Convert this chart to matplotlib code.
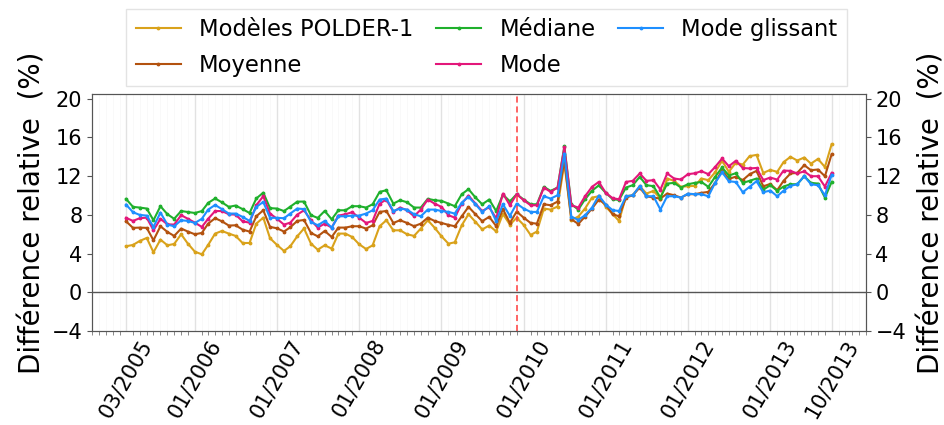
import numpy as np
import pandas as pd
import matplotlib
matplotlib.use("Agg")
import matplotlib.pyplot as plt
import matplotlib.dates as mdates

# ---- séries mensuelles (03/2005 -> 10/2013), en % ----
mois = pd.date_range("2005-03-01", periods=104, freq="MS")

polder1 = [4.76, 4.9, 5.31, 5.62, 4.14, 5.45, 4.86, 5.0, 6.0, 5.03,
           4.2, 3.93, 4.9, 6.07, 6.34, 6.07, 5.83, 5.1, 5.1, 7.1,
           7.72, 5.59, 4.9, 4.28, 4.76, 5.79, 6.6, 5.03, 4.41, 4.86,
           4.52, 6.07, 6.07, 5.72, 4.97, 4.48, 4.86, 6.83, 7.45, 6.41,
           6.41, 6.0, 5.83, 6.59, 7.45, 6.69, 5.79, 5.03, 5.17, 6.93,
           8.07, 7.28, 6.5, 6.9, 6.3, 8.1, 7.0, 7.7, 6.97, 5.93,
           6.28, 8.66, 8.55, 8.86, 13.38, 7.48, 7.83, 8.66, 9.79, 9.93,
           8.86, 8.07, 7.38, 9.93, 10.03, 10.97, 10.21, 10.48, 9.69, 11.76,
           11.52, 10.9, 10.97, 11.0, 11.76, 11.59, 12.4, 13.6, 12.45, 13.4,
           13.2, 14.07, 14.2, 12.34, 12.65, 12.45, 13.45, 14.0, 13.62, 13.93,
           13.3, 13.78, 12.95, 15.31]

moyenne = [7.34, 6.66, 6.69, 6.66, 5.38, 6.83, 6.24, 5.83, 6.59, 6.28,
           6.0, 6.14, 7.1, 7.66, 7.34, 6.9, 6.93, 6.48, 6.28, 7.86,
           8.48, 6.76, 6.62, 6.28, 6.72, 7.38, 7.48, 6.14, 5.79, 6.34,
           5.72, 6.69, 6.69, 6.83, 6.83, 6.59, 6.93, 8.31, 8.41, 7.17,
           7.45, 7.17, 6.83, 7.1, 7.72, 7.38, 7.17, 6.97, 6.83, 7.86,
           8.83, 8.07, 7.35, 7.8, 6.85, 8.6, 7.17, 8.35, 7.72, 7.17,
           7.1, 9.1, 9.0, 9.38, 13.66, 7.55, 7.07, 7.83, 8.66, 9.59,
           9.07, 8.07, 7.86, 9.79, 10.03, 10.83, 9.93, 9.79, 9.69, 10.21,
           10.03, 9.79, 10.14, 10.14, 10.28, 10.38, 11.31, 12.62, 11.72, 11.95,
           11.6, 12.2, 12.55, 10.95, 11.2, 10.55, 11.52, 12.28, 12.34, 13.14,
           12.62, 12.69, 12.0, 14.28]

mediane = [9.66, 8.83, 8.76, 8.66, 7.45, 8.9, 8.07, 7.6, 8.4, 8.3,
           8.2, 8.4, 9.24, 9.7, 9.3, 8.83, 8.97, 8.6, 8.2, 9.7,
           10.3, 8.7, 8.66, 8.4, 8.85, 9.37, 9.38, 7.97, 7.69, 8.41,
           7.55, 8.48, 8.48, 8.9, 8.9, 8.76, 9.1, 10.38, 10.55, 9.17,
           9.52, 9.31, 8.76, 8.76, 9.66, 9.52, 9.45, 9.17, 8.9, 10.14,
           10.66, 9.8, 9.1, 9.59, 8.4, 10.1, 9.4, 10.14, 9.59, 9.1,
           9.1, 10.9, 10.48, 10.83, 15.1, 9.1, 8.55, 9.62, 10.5, 11.05,
           10.28, 9.62, 9.55, 10.83, 11.07, 11.93, 11.07, 10.97, 9.79, 11.24,
           11.31, 10.83, 11.17, 11.31, 11.41, 10.9, 11.93, 12.9, 12.07, 12.31,
           11.31, 11.52, 11.76, 10.6, 11.07, 10.5, 10.93, 11.17, 11.17, 12.0,
           11.31, 11.24, 9.79, 11.41]

mode = [7.7, 7.38, 7.66, 7.72, 6.41, 7.59, 7.03, 7.0, 7.97, 7.6,
        7.2, 6.76, 7.6, 8.4, 8.4, 8.07, 8.03, 7.34, 7.2, 9.0,
        9.93, 8.14, 7.6, 7.0, 7.2, 8.03, 8.48, 7.45, 6.69, 7.1,
        6.69, 7.93, 8.07, 8.28, 7.72, 7.17, 7.38, 9.17, 9.59, 8.31,
        8.76, 8.48, 7.86, 8.55, 9.59, 9.17, 8.83, 7.97, 7.72, 9.17,
        10.0, 9.17, 8.4, 8.8, 7.65, 10.2, 9.0, 10.14, 9.52, 9.0,
        9.0, 10.83, 10.38, 10.83, 14.97, 9.0, 8.76, 9.93, 10.9, 11.41,
        10.28, 9.72, 9.62, 11.41, 11.52, 12.28, 11.52, 11.59, 10.62, 12.28,
        11.76, 11.66, 12.21, 12.3, 12.52, 12.21, 12.95, 13.83, 13.03, 13.59,
        12.85, 12.8, 12.85, 11.6, 11.86, 11.65, 12.58, 12.55, 12.28, 12.5,
        12.0, 12.0, 10.93, 12.34]

mode_glissant = [9.07, 8.28, 8.0, 7.93, 6.76, 8.24, 7.0, 6.83, 7.45, 7.38,
                 7.17, 7.6, 8.55, 9.03, 8.6, 8.14, 8.14, 7.8, 7.38, 8.83,
                 9.34, 7.7, 7.7, 7.66, 8.14, 8.66, 8.6, 7.28, 6.93, 7.38,
                 6.69, 7.86, 7.86, 7.93, 7.93, 8.14, 8.48, 9.59, 9.69, 8.41,
                 8.66, 8.55, 8.07, 7.86, 8.55, 8.55, 8.41, 8.31, 8.14, 9.28,
                 9.86, 9.1, 8.3, 8.9, 7.35, 9.1, 7.9, 9.17, 8.66, 8.31,
                 8.31, 9.93, 9.69, 10.03, 14.34, 7.83, 7.48, 7.97, 8.76, 10.0,
                 9.07, 8.48, 8.41, 9.93, 10.03, 10.97, 9.93, 9.93, 8.55, 9.93,
                 9.93, 9.79, 10.2, 10.14, 10.14, 9.93, 11.31, 12.4, 11.48, 11.4,
                 10.34, 10.9, 11.48, 10.34, 10.52, 9.93, 10.5, 11.0, 11.17, 12.0,
                 11.17, 11.07, 10.03, 12.14]

series = [
    ("Modèles POLDER-1", polder1, "#D9A21B"),
    ("Moyenne", moyenne, "#B3520F"),
    ("Médiane", mediane, "#1FB02C"),
    ("Mode", mode, "#E3177A"),
    ("Mode glissant", mode_glissant, "#1E8FFF"),
]

ticks_labels = ["03/2005", "01/2006", "01/2007", "01/2008", "01/2009",
                "01/2010", "01/2011", "01/2012", "01/2013", "10/2013"]
date_coupure = "2009-12-01"   # trait rouge vertical

# ---- figure ----
fig = plt.figure(figsize=(9.44, 4.25), dpi=100)
ax = fig.add_axes([0.0975, 0.221, 0.8195, 0.558])

for nom, val, coul in series:
    ax.plot(mois, val, "-", marker=".", ms=3.5, lw=1.5, color=coul, label=nom)

ax.axhline(0, color="#555555", lw=1)
ax.axvline(pd.Timestamp(date_coupure), color="#FF3B3B", lw=1.1, ls=(0, (4, 2.5)))

ticks = pd.to_datetime(ticks_labels, format="%m/%Y")
ax.set_xticks(ticks)
ax.set_xticklabels(ticks_labels, rotation=60, fontsize=15)
ax.xaxis.set_minor_locator(mdates.MonthLocator())
ax.set_xlim(mois[0] - pd.DateOffset(months=5), mois[-1] + pd.DateOffset(months=5))
ax.grid(True, axis="x", which="major", color="#e2e2e2", lw=1)
ax.grid(True, axis="x", which="minor", color="#f8f8f8", lw=0.6)
ax.tick_params(axis="x", which="major", length=0)
ax.tick_params(axis="x", which="minor", length=3, color="#777777")

ax.set_ylim(-4, 20.5)
ax.set_yticks(np.arange(-4, 21, 4))
ax.tick_params(axis="y", labelsize=15, color="#555555")
ax.set_ylabel("Différence relative  (%)", fontsize=20)

ax2 = ax.twinx()
ax2.set_ylim(ax.get_ylim())
ax2.set_yticks(np.arange(-4, 21, 4))
ax2.tick_params(axis="y", labelsize=15, color="#555555")
ax2.set_ylabel("Différence relative  (%)", fontsize=20, rotation=90, labelpad=8)

for a in (ax, ax2):
    for s in a.spines.values():
        s.set_color("#555555")

ax.legend(loc="lower center", bbox_to_anchor=(0.51, 1.035), ncol=3,
          fontsize=16.3, frameon=True, edgecolor="#dddddd", fancybox=False,
          columnspacing=1.0, borderaxespad=0, handletextpad=0.8,
          labelspacing=0.55)

fig.savefig("out.png", dpi=100)
